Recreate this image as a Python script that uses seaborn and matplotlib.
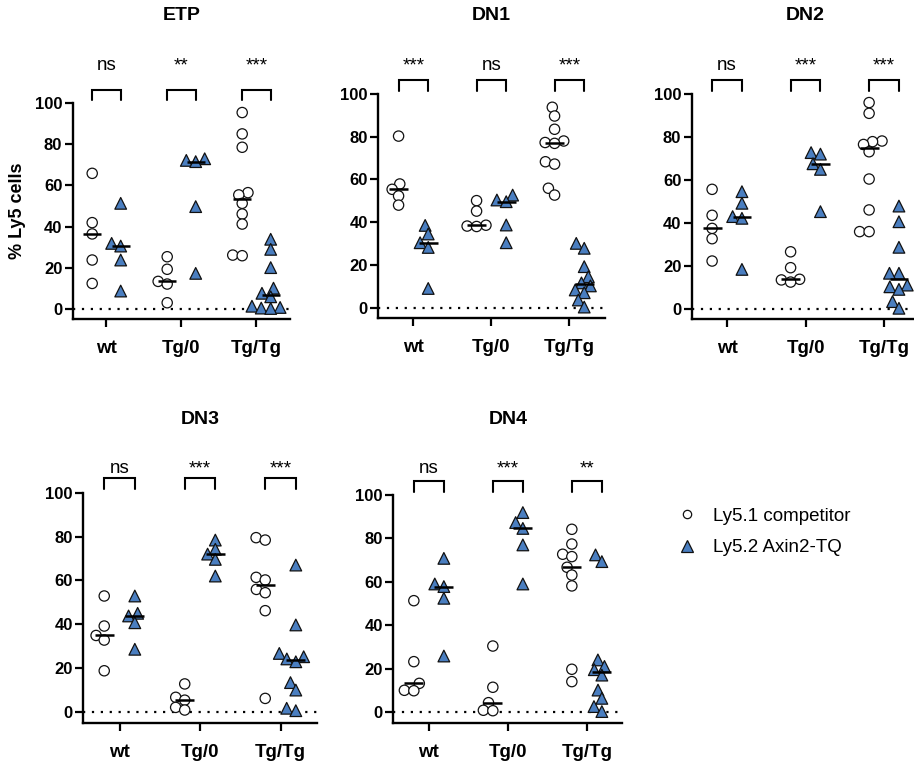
import numpy as np
import pandas as pd
import matplotlib
matplotlib.use("Agg")
import matplotlib.pyplot as plt
from matplotlib.lines import Line2D
import seaborn as sns

# ---------------- data ----------------
GROUPS = ["wt", "Tg/0", "Tg/Tg"]
SERIES = ["Ly5.1 competitor", "Ly5.2 Axin2-TQ"]
PANELS = ["ETP", "DN1", "DN2", "DN3", "DN4"]

ETP_LY51 = [[65.9, 41.9, 36.4, 23.7, 12.3],
            [25.3, 19.2, 13.3, 12.0, 2.9],
            [95.5, 85.1, 78.6, 56.5, 55.4, 51.3, 46.1, 41.2, 26.1, 25.8]]
ETP_LY52 = [[51.3, 31.8, 30.5, 23.7, 8.6],
            [73.0, 72.2, 71.6, 49.7, 17.2],
            [33.8, 28.9, 20.0, 10.0, 7.5, 5.8, 1.2, 0.6, 0.3, 0.1]]

DN1_LY51 = [[80.3, 57.9, 55.4, 52.3, 48.0],
            [50.1, 45.2, 38.6, 38.2, 38.0],
            [93.8, 89.7, 83.5, 78.0, 77.3, 76.9, 68.3, 67.2, 55.9, 52.7]]
DN1_LY52 = [[38.5, 34.5, 30.4, 28.2, 9.0],
            [52.7, 50.4, 49.6, 38.7, 30.4],
            [30.1, 27.8, 19.2, 14.5, 11.6, 10.2, 8.3, 7.0, 3.6, 0.3]]

DN2_LY51 = [[55.6, 43.5, 37.4, 32.6, 22.2],
            [26.5, 19.1, 13.7, 13.4, 12.4],
            [96.0, 91.0, 78.1, 77.8, 76.5, 73.1, 60.4, 46.0, 35.9, 35.9]]
DN2_LY52 = [[54.5, 49.1, 42.9, 42.1, 18.3],
            [72.7, 72.0, 67.5, 64.9, 45.2],
            [47.8, 40.5, 28.6, 16.5, 16.5, 11.0, 10.2, 9.0, 3.3, 0.2]]

DN3_LY51 = [[52.9, 39.2, 34.9, 32.8, 18.8],
            [12.8, 6.7, 5.4, 2.1, 0.9],
            [79.5, 78.4, 61.4, 60.2, 55.9, 54.4, 46.2, 6.2]]
DN3_LY52 = [[52.9, 45.0, 43.8, 40.7, 28.6],
            [78.4, 74.2, 72.0, 69.6, 62.0],
            [67.0, 39.7, 26.7, 25.2, 24.2, 22.9, 13.4, 10.0, 1.7, 0.6]]

DN4_LY51 = [[51.3, 23.2, 13.2, 10.0, 9.8],
            [30.4, 11.4, 4.3, 0.8, 0.6],
            [84.2, 77.4, 72.7, 71.6, 66.7, 63.1, 58.1, 19.7, 14.0]]
DN4_LY52 = [[70.8, 59.0, 57.8, 52.4, 25.8],
            [91.9, 87.3, 84.6, 77.0, 59.0],
            [72.4, 69.3, 24.0, 21.0, 19.5, 17.0, 10.1, 6.3, 2.5, 0.2]]

ETP_SIG = ["ns", "**", "***"]
DN1_SIG = ["***", "ns", "***"]
DN2_SIG = ["ns", "***", "***"]
DN3_SIG = ["ns", "***", "***"]
DN4_SIG = ["ns", "***", "**"]

Y_TICKS = [0, 20, 40, 60, 80, 100]

PANEL_DATA = {
    "ETP": (ETP_LY51, ETP_LY52, ETP_SIG),
    "DN1": (DN1_LY51, DN1_LY52, DN1_SIG),
    "DN2": (DN2_LY51, DN2_LY52, DN2_SIG),
    "DN3": (DN3_LY51, DN3_LY52, DN3_SIG),
    "DN4": (DN4_LY51, DN4_LY52, DN4_SIG),
}

rows = []
for p in PANELS:
    l51, l52, _ = PANEL_DATA[p]
    for ser, vals in zip(SERIES, (l51, l52)):
        for g, vs in zip(GROUPS, vals):
            for v in vs:
                rows.append({"panel": p, "group": g, "series": ser, "value": v})
df = pd.DataFrame(rows)

# ---------------- style ----------------
sns.set_style("ticks")
plt.rcParams["font.family"] = ["Liberation Sans", "DejaVu Sans"]
for k in ("text.color", "axes.labelcolor", "xtick.color", "ytick.color", "axes.edgecolor"):
    plt.rcParams[k] = "black"

W, H = 914, 767
fig = plt.figure(figsize=(W / 100, H / 100), dpi=100)

XLIM = (-0.45, 2.45)
YLIM = (-5, 100)
OFFS = [-0.19, 0.19]
BLUE = "#4A7EC0"

# pixel layout: left, column spacing, y of 100, y of 0
LAYOUT = {
    "ETP": (72.7, 75.0, 103.3, 308.7),
    "DN1": (378.3, 78.0, 94.0, 307.7),
    "DN2": (691.7, 78.5, 94.0, 308.7),
    "DN3": (83.3, 80.5, 492.7, 712.0),
    "DN4": (393.3, 79.0, 495.0, 712.0),
}
TITLE_Y = {"ETP": 16, "DN1": 16, "DN2": 16, "DN3": 420, "DN4": 420}
SIG_Y = {"ETP": 70, "DN1": 70, "DN2": 70, "DN3": 473, "DN4": 473}

# marker, face colour, layout size (for swarm spacing), final size
STYLES = [("o", "white", 5.6, 7.4), ("^", BLUE, 5.6, 8.4)]
swarm_colls = []

for p in PANELS:
    left, sp, y100, y0 = LAYOUT[p]
    upx = (y0 - y100) / 100.0
    width = sp * (XLIM[1] - XLIM[0])
    bottom_px = y0 + (-YLIM[0]) * upx
    height = upx * (YLIM[1] - YLIM[0])
    ax = fig.add_axes([left / W, 1 - bottom_px / H, width / W, height / H])
    ax.set_xlim(*XLIM)
    ax.set_ylim(*YLIM)

    sub_p = df[df.panel == p]
    for si, ser in enumerate(SERIES):
        sub = sub_p[sub_p.series == ser].copy()
        sub["pos"] = sub["group"].map({g: i for i, g in enumerate(GROUPS)}) + OFFS[si]
        mk, fc, lay_sz, fin_sz = STYLES[si]
        n0 = len(ax.collections)
        sns.swarmplot(data=sub, x="pos", y="value", native_scale=True, orient="x",
                      marker=mk, color=fc, edgecolor="#111111", linewidth=0.9,
                      size=lay_sz, ax=ax, zorder=3, warn_thresh=1.0)
        for c in ax.collections[n0:]:
            swarm_colls.append((c, fin_sz))
        med = sub.groupby("pos")["value"].median()
        ax.hlines(med.values, med.index - 0.12, med.index + 0.12,
                  color="black", lw=1.8, zorder=5)

    for c in ax.collections:
        c.set_clip_on(False)

    ax.axhline(0, color="black", lw=1.6, ls=(0, (1, 3)), zorder=1)

    _, _, sig = PANEL_DATA[p]
    for i, s in enumerate(sig):
        ax.plot([i + OFFS[0], i + OFFS[0], i + OFFS[1], i + OFFS[1]],
                [101.5, 106.5, 106.5, 101.5], color="black", lw=1.5,
                clip_on=False, solid_joinstyle="miter")
        ax.annotate(s, xy=(i, 1 - SIG_Y[p] / H), xycoords=("data", "figure fraction"),
                    ha="center", va="baseline", fontsize=13.5)

    ax.set_xlim(*XLIM)
    ax.set_ylim(*YLIM)
    ax.set_yticks(Y_TICKS)
    ax.set_xticks(range(len(GROUPS)))
    ax.set_xticklabels(GROUPS, fontsize=13.5, fontweight="bold")
    for t in ax.get_yticklabels():
        t.set_fontsize(12)
        t.set_fontweight("bold")
    ax.set_xlabel("")
    ax.set_ylabel("")
    sns.despine(ax=ax)
    for s in ("left", "bottom"):
        ax.spines[s].set_linewidth(1.7)
    ax.tick_params(axis="both", length=6, width=1.6, color="black")
    ax.tick_params(axis="y", pad=1.5)
    ax.tick_params(axis="x", pad=9)

    fig.text((left + width / 2) / W, 1 - TITLE_Y[p] / H, p, ha="center", va="center",
             fontsize=14, fontweight="bold")

fig.text(18 / W, 1 - 211 / H, "% Ly5 cells", rotation=90, ha="center", va="center",
         fontsize=13, fontweight="bold")

handles = [Line2D([], [], marker="o", ls="none", mfc="white", mec="#111111", ms=6.0, mew=0.9),
           Line2D([], [], marker="^", ls="none", mfc=BLUE, mec="#111111", ms=8.5, mew=0.9)]
fig.legend(handles, SERIES, loc="center left", bbox_to_anchor=(668 / W, 1 - 532 / H),
           frameon=False, fontsize=13.5, handletextpad=0.8, labelspacing=0.75,
           handlelength=1.2, borderaxespad=0)

# lay the swarms out with a tighter spacing (GraphPad lets points overlap),
# then freeze those positions and enlarge the markers to their real size
fig.canvas.draw()
for c, fin_sz in swarm_colls:
    if "draw" in c.__dict__:
        del c.__dict__["draw"]
    c.set_sizes(np.full(len(c.get_offsets()), fin_sz ** 2))

fig.savefig("out.png", dpi=100)
